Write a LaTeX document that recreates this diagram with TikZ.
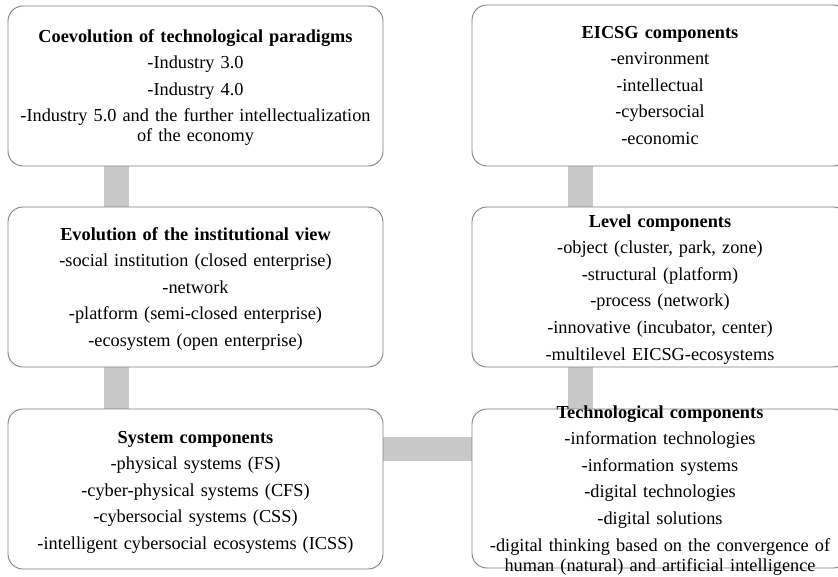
\documentclass[tikz,border=0pt]{standalone}
\usepackage{fontspec}
\setmainfont{Liberation Serif}
\usetikzlibrary{backgrounds}
\definecolor{boxline}{HTML}{808080}
\definecolor{barcol}{HTML}{C8C8C8}
\tikzset{
  box/.style={draw=boxline, line width=0.9pt, rounded corners=15pt, fill=white, inner sep=0pt},
  lbl/.style={anchor=base, align=center, text width=380pt, inner sep=0pt,
    font=\fontsize{18.3pt}{26.6pt}\selectfont},
  bar/.style={draw=barcol, line width=25pt}
}
\newcommand{\wrapgap}{\\[-6.6pt]}
\begin{document}
\begin{tikzpicture}[x=1pt,y=-1pt]
\useasboundingbox (0,0) rectangle (838,576);
\clip (0,0) rectangle (838,576);
% boxes
\node[box, minimum width=375pt, minimum height=160pt] (L1) at (195.5,86) {};
\node[box, minimum width=375pt, minimum height=160pt] (L2) at (195.5,287) {};
\node[box, minimum width=375pt, minimum height=160pt] (L3) at (195.5,489) {};
\node[box, minimum width=376pt, minimum height=161pt] (R1) at (660,85.5) {};
\node[box, minimum width=376pt, minimum height=160pt] (R2) at (660,287) {};
\node[box, minimum width=376pt, minimum height=159pt] (R3) at (660,488.5) {};
% connectors
\coordinate (vl) at (116.5,0);
\coordinate (vr) at (580.5,0);
\coordinate (hm) at (0,449);
\begin{scope}[on background layer]
  \fill[white] (0,0) rectangle (838,576);
  \draw[bar] (L1.south -| vl) -- (L2.north -| vl);
  \draw[bar] (L2.south -| vl) -- (L3.north -| vl);
  \draw[bar] (R1.south -| vr) -- (R2.north -| vr);
  \draw[bar] (R2.south -| vr) -- (R3.north -| vr);
  \draw[bar, line width=24pt] (L3.east |- hm) -- (R3.west |- hm);
\end{scope}
% texts
\node[lbl] (L1T) at (195.5,42) {\textbf{Coevolution of technological paradigms}\\
-Industry 3.0\\
-Industry 4.0\\
-Industry 5.0 and the further intellectualization\wrapgap
of the economy};
\node[lbl] (L2T) at (195.5,240) {\textbf{Evolution of the institutional view}\\
-social institution (closed enterprise)\\
-network\\
-platform (semi-closed enterprise)\\
-ecosystem (open enterprise)};
\node[lbl] (L3T) at (195.5,443) {\textbf{System components}\\
-physical systems (FS)\\
-cyber-physical systems (CFS)\\
-cybersocial systems (CSS)\\
-intelligent cybersocial ecosystems (ICSS)};
\node[lbl] (R1T) at (660,38) {\textbf{EICSG components}\\
-environment\\
-intellectual\\
-cybersocial\\
-economic};
\node[lbl] (R2T) at (660,227) {\textbf{Level components}\\
-object (cluster, park, zone)\\
-structural (platform)\\
-process (network)\\
-innovative (incubator, center)\\
-multilevel EICSG-ecosystems};
\node[lbl] (R3T) at (660,418) {\textbf{Technological components}\\
-information technologies\\
-information systems\\
-digital technologies\\
-digital solutions\\
-digital thinking based on the convergence of\wrapgap
human (natural) and artificial intelligence};
\end{tikzpicture}
\end{document}
